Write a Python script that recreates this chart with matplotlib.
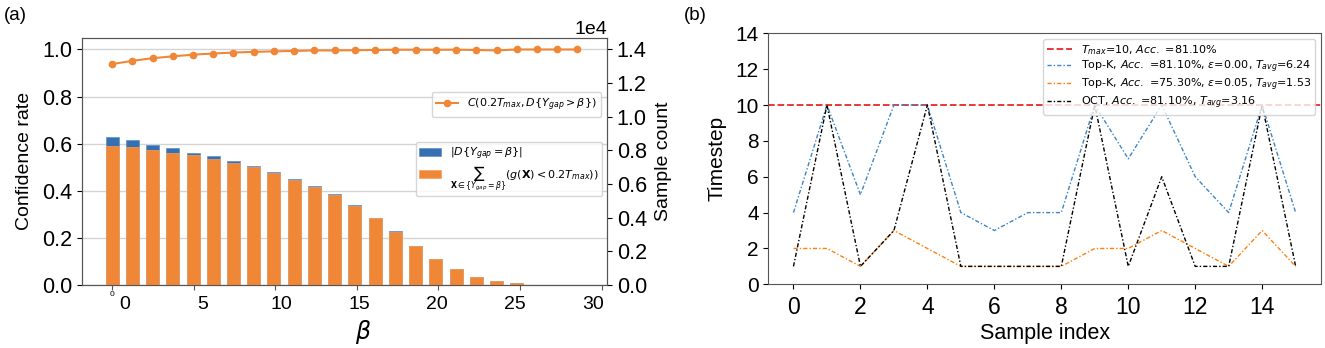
import numpy as np
import matplotlib
matplotlib.use("Agg")
import matplotlib.pyplot as plt

plt.rcParams['font.family'] = ['Liberation Sans', 'DejaVu Sans']
plt.rcParams['mathtext.fontset'] = 'dejavusans'

# ---------------- data: panel (a) ----------------
beta_idx = list(range(24))
confidence = [0.938, 0.952, 0.963, 0.971, 0.978, 0.983, 0.987, 0.990, 0.992, 0.994,
              0.996, 0.996, 0.997, 0.998, 0.999, 0.999, 0.999, 0.999, 0.998, 0.996,
              1.000, 1.000, 1.000, 1.000]
count_total = [8820, 8610, 8316, 8134, 7868, 7658, 7378, 7056, 6720, 6328,
               5894, 5390, 4746, 3990, 3192, 2338, 1554, 938, 476, 252,
               98, 28, 6, 0]
count_fast = [8274, 8176, 8008, 7868, 7714, 7490, 7252, 6986, 6664, 6272,
              5810, 5348, 4718, 3962, 3178, 2324, 1540, 938, 476, 252,
              98, 28, 6, 0]
beta_ticks = [0, 5, 10, 15, 20, 25, 30]
beta_labels = ['0', '5', '10', '15', '20', '25', '30']

# ---------------- data: panel (b) ----------------
sample_idx = list(range(16))
t_max = 10
topk_eps0 = [4, 10, 5, 10, 10, 4, 3, 4, 4, 10, 7, 10, 6, 4, 10, 4]
topk_eps005 = [2, 2, 1, 3, 2, 1, 1, 1, 1, 2, 2, 3, 2, 1, 3, 1]
oct_steps = [1, 10, 1, 3, 10, 1, 1, 1, 1, 10, 1, 6, 1, 1, 10, 1]
labels_b = [r'$T_{max}$=10, $Acc.$ =81.10%',
            r'Top-K, $Acc.$ =81.10%, $\epsilon$=0.00, $T_{avg}$=6.24',
            r'Top-K, $Acc.$ =75.30%, $\epsilon$=0.05, $T_{avg}$=1.53',
            r'OCT, $Acc.$ =81.10%, $T_{avg}$=3.16']

ORANGE = '#f08737'
BLUE_BAR = '#3570b0'
SPINE = '#555555'

fig = plt.figure(figsize=(13.25, 3.48), dpi=100)

# ================= panel (a) =================
rectA = [0.0617, 0.181, 0.3964, 0.7106]
ax1 = fig.add_axes(rectA)
ax1.set_xlim(-1.5, 24.46)
ax1.set_ylim(0, 1.05)
ax1.set_yticks([0, 0.2, 0.4, 0.6, 0.8, 1.0])
ax1.yaxis.grid(True, color='#d4d4d4', lw=1)
ax1.set_axisbelow(True)
ax1.tick_params(axis='x', bottom=False, labelbottom=False)
ax1.tick_params(axis='y', labelsize=15.5, colors='black', length=3.5)
ln, = ax1.plot(beta_idx, confidence, color=ORANGE, lw=1.5, marker='o', ms=4.5,
               label=r'$C(0.2T_{max},D\{Y_{gap}>\beta\})$')
ax1.set_ylabel('Confidence rate', fontsize=14, labelpad=6)

ax2 = ax1.twinx()
b1 = ax2.bar(beta_idx, count_total, width=0.64, color=BLUE_BAR, edgecolor='#5a8fd0', lw=0.5,
             label=r'$|D\{Y_{gap}=\beta\}|$')
b2 = ax2.bar(beta_idx, count_fast, width=0.64, color=ORANGE, edgecolor='#f5a060', lw=0.5,
             label=r'$\sum_{\mathbf{X}\in\{Y_{gap}=\beta\}}(g(\mathbf{X})<0.2T_{max}))$')
ax2.set_ylim(0, 14700)
ax2.set_yticks(np.arange(0, 14001, 2000))
ax2.ticklabel_format(axis='y', style='sci', scilimits=(4, 4))
ax2.yaxis.get_offset_text().set_fontsize(14)
ax2.tick_params(axis='y', labelsize=15.5, length=3.5)
ax2.set_ylabel('Sample count', fontsize=14, labelpad=6)

for a in (ax1, ax2):
    for s in a.spines.values():
        s.set_color(SPINE)

ax1.legend(handles=[ln], loc='upper right', bbox_to_anchor=(0.989, 0.780),
           borderaxespad=0, prop={'family': 'DejaVu Sans', 'size': 8})
ax2.legend(handles=[b1, b2], loc='upper right', bbox_to_anchor=(0.9905, 0.578),
           borderaxespad=0, labelspacing=0.2, borderpad=0.3,
           prop={'family': 'DejaVu Sans', 'size': 8})

ax3 = fig.add_axes(rectA, frameon=False)
ax3.set_xlim(-1.857, 30.33)
ax3.set_ylim(0, 1)
ax3.set_yticks([])
ax3.set_xticks(beta_ticks, labels=['0'] + [''] * (len(beta_ticks) - 1))
ax3.tick_params(axis='x', which='major', labelsize=6, length=3.5, pad=0.5, color=SPINE)
lab_pos = [0.8 + 4.78 * i for i in range(len(beta_labels))]
ax3.set_xticks(lab_pos, labels=beta_labels, minor=True)
ax3.tick_params(axis='x', which='minor', length=0, labelsize=14, pad=8)
ax3.set_xlabel(r'$\beta$', fontsize=17, labelpad=6)
ax3.xaxis.set_label_coords(0.535, -0.135)

fig.text(0.0115, 0.955, '(a)', fontsize=13.5, ha='center', va='center')

# ================= panel (b) =================
ax4 = fig.add_axes([0.5799, 0.183, 0.4169, 0.7213])
ax4.axhline(t_max, color='#e8262a', lw=1.3, ls='--', label=labels_b[0])
ax4.plot(sample_idx, topk_eps0, color='#3d85c6', lw=1.0, dashes=(3, 1.5, 1, 1.5), label=labels_b[1])
ax4.plot(sample_idx, topk_eps005, color='#ff7f0e', lw=1.0, dashes=(3, 1.5, 1, 1.5), label=labels_b[2])
ax4.plot(sample_idx, oct_steps, color='black', lw=1.0, dashes=(3, 1.5, 1, 1.5), label=labels_b[3])
ax4.set_ylim(0, 14)
ax4.set_yticks(range(0, 15, 2))
ax4.set_xticks(range(0, 15, 2))
ax4.tick_params(axis='y', labelsize=15, length=3.5)
ax4.tick_params(axis='x', labelsize=16.5, length=3.5, pad=5)
ax4.set_xlabel('Sample index', fontsize=15.5, labelpad=3)
ax4.set_ylabel('Timestep', fontsize=15, labelpad=6)
for s in ax4.spines.values():
    s.set_color(SPINE)
ax4.legend(loc='upper right', prop={'family': 'DejaVu Sans', 'size': 8},
           labelspacing=0.15, handlelength=2.2, borderpad=0.35)

fig.text(0.5245, 0.955, '(b)', fontsize=13.5, ha='center', va='center')

fig.savefig('out.png', dpi=100)
